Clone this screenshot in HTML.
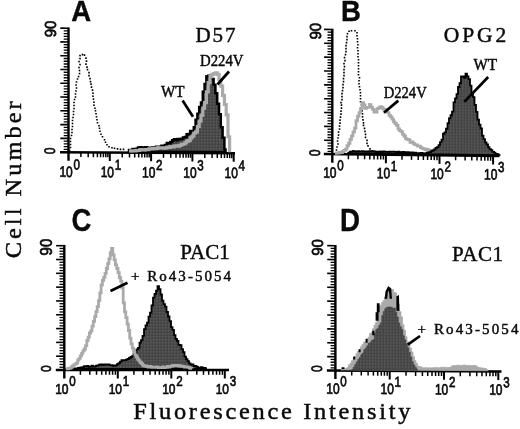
<!DOCTYPE html>
<html><head><meta charset="utf-8"><title>Figure</title>
<style>
html,body{margin:0;padding:0;background:#fff;}
body{width:520px;height:429px;overflow:hidden;font-family:"Liberation Sans",sans-serif;}
svg{display:block;will-change:transform;}
text{fill:#0a0a0a;} .sb{stroke:#0a0a0a;stroke-width:0.7px;} .sr{stroke:#0a0a0a;stroke-width:0.45px;} .bb{stroke:#000;stroke-width:0.35px;}
</style></head><body>
<svg width="520" height="429" viewBox="0 0 520 429">
<defs><pattern id="ht" width="3" height="3" patternUnits="userSpaceOnUse"><rect width="3" height="3" fill="#4a4a4a"/><rect x="0" y="0" width="1.5" height="1.5" fill="#585858"/><rect x="1.5" y="1.5" width="1.5" height="1.5" fill="#404040"/></pattern></defs>
<rect width="520" height="429" fill="#fff"/>
<g transform="matrix(1,0.007,0,1,0,-0.480)">
<line x1="68.5" y1="27.4" x2="68.5" y2="160.7" stroke="#000" stroke-width="2.4"/>
<line x1="60.0" y1="152.2" x2="235" y2="152.2" stroke="#000" stroke-width="2.5"/>
<line x1="63.7" y1="149.44" x2="68.5" y2="149.44" stroke="#000" stroke-width="1.3"/>
<line x1="63.7" y1="146.69" x2="68.5" y2="146.69" stroke="#000" stroke-width="1.3"/>
<line x1="63.7" y1="143.93" x2="68.5" y2="143.93" stroke="#000" stroke-width="1.3"/>
<line x1="63.7" y1="141.18" x2="68.5" y2="141.18" stroke="#000" stroke-width="1.3"/>
<line x1="60.3" y1="138.42" x2="68.5" y2="138.42" stroke="#000" stroke-width="1.6"/>
<line x1="63.7" y1="135.67" x2="68.5" y2="135.67" stroke="#000" stroke-width="1.3"/>
<line x1="63.7" y1="132.91" x2="68.5" y2="132.91" stroke="#000" stroke-width="1.3"/>
<line x1="63.7" y1="130.16" x2="68.5" y2="130.16" stroke="#000" stroke-width="1.3"/>
<line x1="63.7" y1="127.40" x2="68.5" y2="127.40" stroke="#000" stroke-width="1.3"/>
<line x1="60.3" y1="124.64" x2="68.5" y2="124.64" stroke="#000" stroke-width="1.6"/>
<line x1="63.7" y1="121.89" x2="68.5" y2="121.89" stroke="#000" stroke-width="1.3"/>
<line x1="63.7" y1="119.13" x2="68.5" y2="119.13" stroke="#000" stroke-width="1.3"/>
<line x1="63.7" y1="116.38" x2="68.5" y2="116.38" stroke="#000" stroke-width="1.3"/>
<line x1="63.7" y1="113.62" x2="68.5" y2="113.62" stroke="#000" stroke-width="1.3"/>
<line x1="60.3" y1="110.87" x2="68.5" y2="110.87" stroke="#000" stroke-width="1.6"/>
<line x1="63.7" y1="108.11" x2="68.5" y2="108.11" stroke="#000" stroke-width="1.3"/>
<line x1="63.7" y1="105.36" x2="68.5" y2="105.36" stroke="#000" stroke-width="1.3"/>
<line x1="63.7" y1="102.60" x2="68.5" y2="102.60" stroke="#000" stroke-width="1.3"/>
<line x1="63.7" y1="99.84" x2="68.5" y2="99.84" stroke="#000" stroke-width="1.3"/>
<line x1="60.3" y1="97.09" x2="68.5" y2="97.09" stroke="#000" stroke-width="1.6"/>
<line x1="63.7" y1="94.33" x2="68.5" y2="94.33" stroke="#000" stroke-width="1.3"/>
<line x1="63.7" y1="91.58" x2="68.5" y2="91.58" stroke="#000" stroke-width="1.3"/>
<line x1="63.7" y1="88.82" x2="68.5" y2="88.82" stroke="#000" stroke-width="1.3"/>
<line x1="63.7" y1="86.07" x2="68.5" y2="86.07" stroke="#000" stroke-width="1.3"/>
<line x1="60.3" y1="83.31" x2="68.5" y2="83.31" stroke="#000" stroke-width="1.6"/>
<line x1="63.7" y1="80.56" x2="68.5" y2="80.56" stroke="#000" stroke-width="1.3"/>
<line x1="63.7" y1="77.80" x2="68.5" y2="77.80" stroke="#000" stroke-width="1.3"/>
<line x1="63.7" y1="75.04" x2="68.5" y2="75.04" stroke="#000" stroke-width="1.3"/>
<line x1="63.7" y1="72.29" x2="68.5" y2="72.29" stroke="#000" stroke-width="1.3"/>
<line x1="60.3" y1="69.53" x2="68.5" y2="69.53" stroke="#000" stroke-width="1.6"/>
<line x1="63.7" y1="66.78" x2="68.5" y2="66.78" stroke="#000" stroke-width="1.3"/>
<line x1="63.7" y1="64.02" x2="68.5" y2="64.02" stroke="#000" stroke-width="1.3"/>
<line x1="63.7" y1="61.27" x2="68.5" y2="61.27" stroke="#000" stroke-width="1.3"/>
<line x1="63.7" y1="58.51" x2="68.5" y2="58.51" stroke="#000" stroke-width="1.3"/>
<line x1="60.3" y1="55.76" x2="68.5" y2="55.76" stroke="#000" stroke-width="1.6"/>
<line x1="63.7" y1="53.00" x2="68.5" y2="53.00" stroke="#000" stroke-width="1.3"/>
<line x1="63.7" y1="50.24" x2="68.5" y2="50.24" stroke="#000" stroke-width="1.3"/>
<line x1="63.7" y1="47.49" x2="68.5" y2="47.49" stroke="#000" stroke-width="1.3"/>
<line x1="63.7" y1="44.73" x2="68.5" y2="44.73" stroke="#000" stroke-width="1.3"/>
<line x1="60.3" y1="41.98" x2="68.5" y2="41.98" stroke="#000" stroke-width="1.6"/>
<line x1="63.7" y1="39.22" x2="68.5" y2="39.22" stroke="#000" stroke-width="1.3"/>
<line x1="63.7" y1="36.47" x2="68.5" y2="36.47" stroke="#000" stroke-width="1.3"/>
<line x1="63.7" y1="33.71" x2="68.5" y2="33.71" stroke="#000" stroke-width="1.3"/>
<line x1="63.7" y1="30.96" x2="68.5" y2="30.96" stroke="#000" stroke-width="1.3"/>
<line x1="60.3" y1="28.20" x2="68.5" y2="28.20" stroke="#000" stroke-width="1.6"/>
<line x1="80.9" y1="152.2" x2="80.9" y2="157.0" stroke="#000" stroke-width="1.5"/>
<line x1="88.2" y1="152.2" x2="88.2" y2="157.0" stroke="#000" stroke-width="1.5"/>
<line x1="93.4" y1="152.2" x2="93.4" y2="157.0" stroke="#000" stroke-width="1.5"/>
<line x1="97.4" y1="152.2" x2="97.4" y2="157.0" stroke="#000" stroke-width="1.5"/>
<line x1="100.6" y1="152.2" x2="100.6" y2="157.0" stroke="#000" stroke-width="1.5"/>
<line x1="103.4" y1="152.2" x2="103.4" y2="157.0" stroke="#000" stroke-width="1.5"/>
<line x1="105.8" y1="152.2" x2="105.8" y2="157.0" stroke="#000" stroke-width="1.5"/>
<line x1="107.9" y1="152.2" x2="107.9" y2="157.0" stroke="#000" stroke-width="1.5"/>
<text class="sb" transform="translate(59.4,176.9) scale(0.80,1)" font-family="Liberation Sans" font-size="15">10</text>
<text class="sb" transform="translate(73.4,169.4) scale(0.80,1)" font-family="Liberation Sans" font-size="14.5">0</text>
<line x1="109.8" y1="152.2" x2="109.8" y2="160.7" stroke="#000" stroke-width="2"/>
<line x1="122.2" y1="152.2" x2="122.2" y2="157.0" stroke="#000" stroke-width="1.5"/>
<line x1="129.5" y1="152.2" x2="129.5" y2="157.0" stroke="#000" stroke-width="1.5"/>
<line x1="134.7" y1="152.2" x2="134.7" y2="157.0" stroke="#000" stroke-width="1.5"/>
<line x1="138.7" y1="152.2" x2="138.7" y2="157.0" stroke="#000" stroke-width="1.5"/>
<line x1="141.9" y1="152.2" x2="141.9" y2="157.0" stroke="#000" stroke-width="1.5"/>
<line x1="144.7" y1="152.2" x2="144.7" y2="157.0" stroke="#000" stroke-width="1.5"/>
<line x1="147.1" y1="152.2" x2="147.1" y2="157.0" stroke="#000" stroke-width="1.5"/>
<line x1="149.2" y1="152.2" x2="149.2" y2="157.0" stroke="#000" stroke-width="1.5"/>
<text class="sb" transform="translate(100.7,176.9) scale(0.80,1)" font-family="Liberation Sans" font-size="15">10</text>
<text class="sb" transform="translate(114.7,169.4) scale(0.80,1)" font-family="Liberation Sans" font-size="14.5">1</text>
<line x1="151.1" y1="152.2" x2="151.1" y2="160.7" stroke="#000" stroke-width="2"/>
<line x1="163.5" y1="152.2" x2="163.5" y2="157.0" stroke="#000" stroke-width="1.5"/>
<line x1="170.8" y1="152.2" x2="170.8" y2="157.0" stroke="#000" stroke-width="1.5"/>
<line x1="176.0" y1="152.2" x2="176.0" y2="157.0" stroke="#000" stroke-width="1.5"/>
<line x1="180.0" y1="152.2" x2="180.0" y2="157.0" stroke="#000" stroke-width="1.5"/>
<line x1="183.2" y1="152.2" x2="183.2" y2="157.0" stroke="#000" stroke-width="1.5"/>
<line x1="186.0" y1="152.2" x2="186.0" y2="157.0" stroke="#000" stroke-width="1.5"/>
<line x1="188.4" y1="152.2" x2="188.4" y2="157.0" stroke="#000" stroke-width="1.5"/>
<line x1="190.5" y1="152.2" x2="190.5" y2="157.0" stroke="#000" stroke-width="1.5"/>
<text class="sb" transform="translate(142.0,176.9) scale(0.80,1)" font-family="Liberation Sans" font-size="15">10</text>
<text class="sb" transform="translate(156.0,169.4) scale(0.80,1)" font-family="Liberation Sans" font-size="14.5">2</text>
<line x1="192.4" y1="152.2" x2="192.4" y2="160.7" stroke="#000" stroke-width="2"/>
<line x1="204.8" y1="152.2" x2="204.8" y2="157.0" stroke="#000" stroke-width="1.5"/>
<line x1="212.1" y1="152.2" x2="212.1" y2="157.0" stroke="#000" stroke-width="1.5"/>
<line x1="217.3" y1="152.2" x2="217.3" y2="157.0" stroke="#000" stroke-width="1.5"/>
<line x1="221.3" y1="152.2" x2="221.3" y2="157.0" stroke="#000" stroke-width="1.5"/>
<line x1="224.5" y1="152.2" x2="224.5" y2="157.0" stroke="#000" stroke-width="1.5"/>
<line x1="227.3" y1="152.2" x2="227.3" y2="157.0" stroke="#000" stroke-width="1.5"/>
<line x1="229.7" y1="152.2" x2="229.7" y2="157.0" stroke="#000" stroke-width="1.5"/>
<line x1="231.8" y1="152.2" x2="231.8" y2="157.0" stroke="#000" stroke-width="1.5"/>
<text class="sb" transform="translate(183.3,176.9) scale(0.80,1)" font-family="Liberation Sans" font-size="15">10</text>
<text class="sb" transform="translate(197.3,169.4) scale(0.80,1)" font-family="Liberation Sans" font-size="14.5">3</text>
<line x1="233.7" y1="152.2" x2="233.7" y2="160.7" stroke="#000" stroke-width="2"/>
<text class="sb" transform="translate(224.6,176.9) scale(0.80,1)" font-family="Liberation Sans" font-size="15">10</text>
<text class="sb" transform="translate(238.6,169.4) scale(0.80,1)" font-family="Liberation Sans" font-size="14.5">4</text>
<text class="sb" transform="translate(55.5,37.4) rotate(-90)" font-family="Liberation Sans" font-size="16" textLength="16.6" lengthAdjust="spacingAndGlyphs">90</text>
<text class="sb" transform="translate(54.6,154.3) rotate(-90) scale(0.8,1)" font-family="Liberation Sans" font-size="15.2">0</text>
<path d="M68.7 150.5h1.6 M69.7 147.5h1.6 M69.7 144.5h1.6 M69.7 141.5h1.6 M69.7 138.5h1.6 M70.7 135.5h1.6 M71.2 132.5h1.6 M71.2 129.5h1.6 M71.7 126.5h1.6 M71.7 123.5h1.6 M71.7 120.5h1.6 M72.2 117.5h1.6 M72.7 114.5h1.6 M72.7 111.5h1.6 M73.2 108.5h1.6 M73.2 105.5h1.6 M73.2 102.5h1.6 M73.7 99.5h1.6 M74.7 97.0h1.6 M74.7 94.0h1.6 M75.2 91.0h1.6 M75.7 88.0h1.6 M75.2 85.0h1.6 M75.7 82.0h1.6 M76.7 79.0h1.6 M77.7 76.5h1.6 M78.7 73.5h1.6 M78.7 70.5h1.6 M78.2 67.5h1.6 M79.2 64.5h1.6 M78.2 61.5h1.6 M79.2 58.5h1.6 M79.2 55.5h1.6 M81.7 54.5h1.6 M83.7 55.0h1.6 M85.2 58.0h1.6 M85.7 61.0h1.6 M85.2 64.0h1.6 M86.2 67.0h1.6 M86.7 69.5h1.6 M88.2 72.5h1.6 M88.2 75.5h1.6 M89.2 78.5h1.6 M89.7 81.5h1.6 M90.2 84.0h1.6 M90.7 87.0h1.6 M91.7 90.0h1.6 M92.2 93.0h1.6 M92.2 96.0h1.6 M92.7 99.0h1.6 M93.2 102.0h1.6 M93.2 105.0h1.6 M94.2 108.0h1.6 M94.7 110.5h1.6 M95.2 113.5h1.6 M95.7 116.5h1.6 M96.2 119.5h1.6 M96.7 122.5h1.6 M98.2 125.5h1.6 M98.7 128.0h1.6 M99.2 131.0h1.6 M100.2 134.0h1.6 M101.7 136.5h1.6 M103.7 139.5h1.6 M104.7 142.0h1.6 M106.2 144.5h1.6 M108.2 146.5h1.6 M111.2 147.5h1.6 M113.7 148.0h1.6 M116.7 148.5h1.6 M119.7 149.0h1.6 M122.7 149.0h1.6" fill="none" stroke="#000" stroke-width="1.6"/>
<path d="M129.0 149.6 H130.8 V149.5 H132.6 V148.6 H134.4 V148.6 H136.2 V148.3 H138.0 V147.1 H139.8 V146.7 H141.6 V147.7 H143.4 V146.9 H145.2 V146.8 H147.0 V148.0 H148.8 V147.2 H150.6 V147.7 H152.4 V147.0 H154.2 V147.0 H156.0 V146.1 H157.8 V146.3 H159.6 V146.2 H161.4 V145.2 H163.2 V145.0 H165.0 V144.3 H166.8 V142.4 H168.6 V142.6 H170.4 V141.3 H172.2 V139.6 H174.0 V138.4 H175.8 V139.6 H177.6 V138.3 H179.4 V138.4 H181.2 V138.0 H183.0 V136.6 H184.8 V136.1 H186.6 V133.5 H188.4 V133.1 H190.2 V130.1 H192.0 V130.1 H193.8 V126.3 H195.6 V118.9 H197.4 V112.8 H199.2 V106.2 H201.0 V101.6 H202.8 V90.8 H204.6 V83.0 H206.4 V75.4 H208.2 V74.8 H210.0 V76.1 H211.8 V78.1 H213.6 V83.8 H215.4 V92.3 H217.2 V102.6 H219.0 V113.3 H220.8 V126.1 H222.6 V136.7 H224.4 V148.3 H225.5 V151.2 V151.2 H129.0 Z" fill="url(#ht)" stroke="#000" stroke-width="2.5" stroke-linejoin="miter"/>
<path d="M129.0 150.6 H130.8 V150.5 H132.6 V150.4 H134.4 V150.4 H136.2 V150.0 H138.0 V150.0 H139.8 V149.1 H141.6 V149.3 H143.4 V149.5 H145.2 V149.1 H147.0 V149.1 H148.8 V148.3 H150.6 V148.4 H152.4 V148.0 H154.2 V148.0 H156.0 V147.8 H157.8 V147.1 H159.6 V147.2 H161.4 V147.1 H163.2 V147.5 H165.0 V147.2 H166.8 V146.5 H168.6 V146.8 H170.4 V146.0 H172.2 V146.1 H174.0 V145.4 H175.8 V145.0 H177.6 V145.3 H179.4 V144.5 H181.2 V143.6 H183.0 V143.2 H184.8 V142.0 H186.6 V140.2 H188.4 V139.7 H190.2 V137.1 H192.0 V135.3 H193.8 V132.3 H195.6 V131.0 H197.4 V125.6 H199.2 V120.3 H201.0 V114.1 H202.8 V107.1 H204.6 V101.6 H206.4 V90.8 H208.2 V81.6 H210.0 V75.6 H211.8 V73.4 H213.6 V72.7 H215.4 V71.8 H217.2 V73.4 H219.0 V78.4 H220.8 V85.0 H222.6 V94.3 H224.4 V103.4 H226.2 V113.7 H228.0 V135.6 H229.6 V151.2" fill="none" stroke="#aaaaaa" stroke-width="3.2"/>
</g>
<text class="bb" transform="translate(71.2,21.2) scale(0.95,1)" font-family="Liberation Sans" font-weight="bold" font-size="29">A</text>
<text class="sr" transform="translate(195.5,41.6) scale(1.0,1)" font-family="Liberation Serif" font-size="21" textLength="40.00">D57</text>
<text class="sr" transform="translate(200,66) scale(1.0,1)" font-family="Liberation Serif" font-size="16" textLength="43.50" lengthAdjust="spacingAndGlyphs">D224V</text>
<text class="sr" transform="translate(161,97) scale(1.0,1)" font-family="Liberation Serif" font-size="16" textLength="23.50" lengthAdjust="spacingAndGlyphs">WT</text>
<line x1="229" y1="71.5" x2="217.5" y2="84.5" stroke="#000" stroke-width="2.7"/>
<line x1="182.6" y1="100.4" x2="193" y2="116.7" stroke="#000" stroke-width="2.7"/>
<g transform="matrix(1,0.011,0,1,0,-3.655)">
<line x1="332.3" y1="28.7" x2="332.3" y2="162.7" stroke="#000" stroke-width="2.4"/>
<line x1="323.8" y1="154.2" x2="499.5" y2="154.2" stroke="#000" stroke-width="2.5"/>
<line x1="327.5" y1="151.43" x2="332.3" y2="151.43" stroke="#000" stroke-width="1.3"/>
<line x1="327.5" y1="148.66" x2="332.3" y2="148.66" stroke="#000" stroke-width="1.3"/>
<line x1="327.5" y1="145.89" x2="332.3" y2="145.89" stroke="#000" stroke-width="1.3"/>
<line x1="327.5" y1="143.12" x2="332.3" y2="143.12" stroke="#000" stroke-width="1.3"/>
<line x1="324.1" y1="140.34" x2="332.3" y2="140.34" stroke="#000" stroke-width="1.6"/>
<line x1="327.5" y1="137.57" x2="332.3" y2="137.57" stroke="#000" stroke-width="1.3"/>
<line x1="327.5" y1="134.80" x2="332.3" y2="134.80" stroke="#000" stroke-width="1.3"/>
<line x1="327.5" y1="132.03" x2="332.3" y2="132.03" stroke="#000" stroke-width="1.3"/>
<line x1="327.5" y1="129.26" x2="332.3" y2="129.26" stroke="#000" stroke-width="1.3"/>
<line x1="324.1" y1="126.49" x2="332.3" y2="126.49" stroke="#000" stroke-width="1.6"/>
<line x1="327.5" y1="123.72" x2="332.3" y2="123.72" stroke="#000" stroke-width="1.3"/>
<line x1="327.5" y1="120.95" x2="332.3" y2="120.95" stroke="#000" stroke-width="1.3"/>
<line x1="327.5" y1="118.18" x2="332.3" y2="118.18" stroke="#000" stroke-width="1.3"/>
<line x1="327.5" y1="115.40" x2="332.3" y2="115.40" stroke="#000" stroke-width="1.3"/>
<line x1="324.1" y1="112.63" x2="332.3" y2="112.63" stroke="#000" stroke-width="1.6"/>
<line x1="327.5" y1="109.86" x2="332.3" y2="109.86" stroke="#000" stroke-width="1.3"/>
<line x1="327.5" y1="107.09" x2="332.3" y2="107.09" stroke="#000" stroke-width="1.3"/>
<line x1="327.5" y1="104.32" x2="332.3" y2="104.32" stroke="#000" stroke-width="1.3"/>
<line x1="327.5" y1="101.55" x2="332.3" y2="101.55" stroke="#000" stroke-width="1.3"/>
<line x1="324.1" y1="98.78" x2="332.3" y2="98.78" stroke="#000" stroke-width="1.6"/>
<line x1="327.5" y1="96.01" x2="332.3" y2="96.01" stroke="#000" stroke-width="1.3"/>
<line x1="327.5" y1="93.24" x2="332.3" y2="93.24" stroke="#000" stroke-width="1.3"/>
<line x1="327.5" y1="90.46" x2="332.3" y2="90.46" stroke="#000" stroke-width="1.3"/>
<line x1="327.5" y1="87.69" x2="332.3" y2="87.69" stroke="#000" stroke-width="1.3"/>
<line x1="324.1" y1="84.92" x2="332.3" y2="84.92" stroke="#000" stroke-width="1.6"/>
<line x1="327.5" y1="82.15" x2="332.3" y2="82.15" stroke="#000" stroke-width="1.3"/>
<line x1="327.5" y1="79.38" x2="332.3" y2="79.38" stroke="#000" stroke-width="1.3"/>
<line x1="327.5" y1="76.61" x2="332.3" y2="76.61" stroke="#000" stroke-width="1.3"/>
<line x1="327.5" y1="73.84" x2="332.3" y2="73.84" stroke="#000" stroke-width="1.3"/>
<line x1="324.1" y1="71.07" x2="332.3" y2="71.07" stroke="#000" stroke-width="1.6"/>
<line x1="327.5" y1="68.30" x2="332.3" y2="68.30" stroke="#000" stroke-width="1.3"/>
<line x1="327.5" y1="65.52" x2="332.3" y2="65.52" stroke="#000" stroke-width="1.3"/>
<line x1="327.5" y1="62.75" x2="332.3" y2="62.75" stroke="#000" stroke-width="1.3"/>
<line x1="327.5" y1="59.98" x2="332.3" y2="59.98" stroke="#000" stroke-width="1.3"/>
<line x1="324.1" y1="57.21" x2="332.3" y2="57.21" stroke="#000" stroke-width="1.6"/>
<line x1="327.5" y1="54.44" x2="332.3" y2="54.44" stroke="#000" stroke-width="1.3"/>
<line x1="327.5" y1="51.67" x2="332.3" y2="51.67" stroke="#000" stroke-width="1.3"/>
<line x1="327.5" y1="48.90" x2="332.3" y2="48.90" stroke="#000" stroke-width="1.3"/>
<line x1="327.5" y1="46.13" x2="332.3" y2="46.13" stroke="#000" stroke-width="1.3"/>
<line x1="324.1" y1="43.36" x2="332.3" y2="43.36" stroke="#000" stroke-width="1.6"/>
<line x1="327.5" y1="40.58" x2="332.3" y2="40.58" stroke="#000" stroke-width="1.3"/>
<line x1="327.5" y1="37.81" x2="332.3" y2="37.81" stroke="#000" stroke-width="1.3"/>
<line x1="327.5" y1="35.04" x2="332.3" y2="35.04" stroke="#000" stroke-width="1.3"/>
<line x1="327.5" y1="32.27" x2="332.3" y2="32.27" stroke="#000" stroke-width="1.3"/>
<line x1="324.1" y1="29.50" x2="332.3" y2="29.50" stroke="#000" stroke-width="1.6"/>
<line x1="348.4" y1="154.2" x2="348.4" y2="159.0" stroke="#000" stroke-width="1.5"/>
<line x1="357.9" y1="154.2" x2="357.9" y2="159.0" stroke="#000" stroke-width="1.5"/>
<line x1="364.6" y1="154.2" x2="364.6" y2="159.0" stroke="#000" stroke-width="1.5"/>
<line x1="369.8" y1="154.2" x2="369.8" y2="159.0" stroke="#000" stroke-width="1.5"/>
<line x1="374.0" y1="154.2" x2="374.0" y2="159.0" stroke="#000" stroke-width="1.5"/>
<line x1="377.6" y1="154.2" x2="377.6" y2="159.0" stroke="#000" stroke-width="1.5"/>
<line x1="380.7" y1="154.2" x2="380.7" y2="159.0" stroke="#000" stroke-width="1.5"/>
<line x1="383.4" y1="154.2" x2="383.4" y2="159.0" stroke="#000" stroke-width="1.5"/>
<text class="sb" transform="translate(323.2,177.8) scale(0.80,1)" font-family="Liberation Sans" font-size="15">10</text>
<text class="sb" transform="translate(337.2,170.3) scale(0.80,1)" font-family="Liberation Sans" font-size="14.5">0</text>
<line x1="385.9" y1="154.2" x2="385.9" y2="162.7" stroke="#000" stroke-width="2"/>
<line x1="402.0" y1="154.2" x2="402.0" y2="159.0" stroke="#000" stroke-width="1.5"/>
<line x1="411.5" y1="154.2" x2="411.5" y2="159.0" stroke="#000" stroke-width="1.5"/>
<line x1="418.2" y1="154.2" x2="418.2" y2="159.0" stroke="#000" stroke-width="1.5"/>
<line x1="423.4" y1="154.2" x2="423.4" y2="159.0" stroke="#000" stroke-width="1.5"/>
<line x1="427.6" y1="154.2" x2="427.6" y2="159.0" stroke="#000" stroke-width="1.5"/>
<line x1="431.2" y1="154.2" x2="431.2" y2="159.0" stroke="#000" stroke-width="1.5"/>
<line x1="434.3" y1="154.2" x2="434.3" y2="159.0" stroke="#000" stroke-width="1.5"/>
<line x1="437.0" y1="154.2" x2="437.0" y2="159.0" stroke="#000" stroke-width="1.5"/>
<text class="sb" transform="translate(376.8,177.8) scale(0.80,1)" font-family="Liberation Sans" font-size="15">10</text>
<text class="sb" transform="translate(390.8,170.3) scale(0.80,1)" font-family="Liberation Sans" font-size="14.5">1</text>
<line x1="439.5" y1="154.2" x2="439.5" y2="162.7" stroke="#000" stroke-width="2"/>
<line x1="455.6" y1="154.2" x2="455.6" y2="159.0" stroke="#000" stroke-width="1.5"/>
<line x1="465.1" y1="154.2" x2="465.1" y2="159.0" stroke="#000" stroke-width="1.5"/>
<line x1="471.8" y1="154.2" x2="471.8" y2="159.0" stroke="#000" stroke-width="1.5"/>
<line x1="477.0" y1="154.2" x2="477.0" y2="159.0" stroke="#000" stroke-width="1.5"/>
<line x1="481.2" y1="154.2" x2="481.2" y2="159.0" stroke="#000" stroke-width="1.5"/>
<line x1="484.8" y1="154.2" x2="484.8" y2="159.0" stroke="#000" stroke-width="1.5"/>
<line x1="487.9" y1="154.2" x2="487.9" y2="159.0" stroke="#000" stroke-width="1.5"/>
<line x1="490.6" y1="154.2" x2="490.6" y2="159.0" stroke="#000" stroke-width="1.5"/>
<text class="sb" transform="translate(430.4,177.8) scale(0.80,1)" font-family="Liberation Sans" font-size="15">10</text>
<text class="sb" transform="translate(444.4,170.3) scale(0.80,1)" font-family="Liberation Sans" font-size="14.5">2</text>
<line x1="493.1" y1="154.2" x2="493.1" y2="162.7" stroke="#000" stroke-width="2"/>
<text class="sb" transform="translate(484.0,177.8) scale(0.80,1)" font-family="Liberation Sans" font-size="15">10</text>
<text class="sb" transform="translate(498.0,170.3) scale(0.80,1)" font-family="Liberation Sans" font-size="14.5">3</text>
<text class="sb" transform="translate(320.8,39.6) rotate(-90)" font-family="Liberation Sans" font-size="16" textLength="16.6" lengthAdjust="spacingAndGlyphs">90</text>
<text class="sb" transform="translate(319.90000000000003,156.5) rotate(-90) scale(0.8,1)" font-family="Liberation Sans" font-size="15.2">0</text>
<path d="M336.2 153.0h1.6 M335.7 150.0h1.6 M336.2 147.0h1.6 M337.2 144.0h1.6 M336.7 141.0h1.6 M337.2 138.0h1.6 M337.7 135.0h1.6 M337.7 132.0h1.6 M338.7 129.0h1.6 M338.7 126.0h1.6 M339.2 123.0h1.6 M339.2 120.0h1.6 M339.7 117.0h1.6 M340.2 114.0h1.6 M340.2 111.0h1.6 M340.7 108.0h1.6 M340.7 105.0h1.6 M340.2 102.5h1.6 M341.2 99.5h1.6 M341.2 96.5h1.6 M341.2 93.5h1.6 M341.7 90.5h1.6 M342.2 87.5h1.6 M342.2 84.5h1.6 M342.7 81.5h1.6 M342.7 78.5h1.6 M343.2 75.5h1.6 M343.2 72.5h1.6 M343.2 69.5h1.6 M343.7 66.5h1.6 M343.2 63.5h1.6 M344.2 60.5h1.6 M343.7 57.5h1.6 M344.7 54.5h1.6 M345.2 51.5h1.6 M345.2 48.5h1.6 M345.2 45.5h1.6 M345.7 42.5h1.6 M346.2 39.5h1.6 M346.2 36.5h1.6 M346.7 33.5h1.6 M348.2 31.0h1.6 M350.7 30.5h1.6 M354.2 30.5h1.6 M356.2 32.5h1.6 M356.2 35.5h1.6 M356.7 38.5h1.6 M356.7 41.5h1.6 M357.2 44.5h1.6 M356.7 47.5h1.6 M357.2 50.5h1.6 M357.2 53.5h1.6 M357.2 56.5h1.6 M357.7 59.5h1.6 M357.7 62.5h1.6 M357.7 65.5h1.6 M357.7 68.5h1.6 M357.7 71.5h1.6 M357.7 74.5h1.6 M358.7 77.5h1.6 M358.2 80.5h1.6 M358.2 83.5h1.6 M358.7 86.5h1.6 M359.2 89.5h1.6 M359.7 92.5h1.6 M359.7 95.5h1.6 M359.7 98.5h1.6 M359.7 101.5h1.6 M360.7 104.5h1.6 M360.7 107.5h1.6 M361.2 110.5h1.6 M361.7 113.5h1.6 M361.7 116.5h1.6 M362.2 119.5h1.6 M362.7 122.5h1.6 M362.7 125.0h1.6 M363.7 128.0h1.6 M364.2 131.0h1.6 M364.7 134.0h1.6 M364.7 137.0h1.6 M366.2 140.0h1.6 M366.2 143.0h1.6 M367.2 145.5h1.6 M369.2 148.5h1.6 M371.2 150.5h1.6 M373.2 152.5h1.6" fill="none" stroke="#000" stroke-width="1.6"/>
<path d="M335.0 153.2 H336.5 V152.8 H338.0 V153.1 H339.5 V152.2 H341.0 V152.4 H342.5 V151.4 H344.0 V150.2 H345.5 V149.0 H347.0 V145.6 H348.5 V143.1 H350.0 V139.2 H351.5 V135.6 H353.0 V131.7 H354.5 V127.8 H356.0 V120.5 H357.5 V116.0 H359.0 V112.4 H360.5 V108.1 H362.0 V102.3 H363.5 V104.5 H365.0 V107.9 H366.5 V106.9 H368.0 V107.0 H369.5 V104.1 H371.0 V106.7 H372.5 V109.0 H374.0 V111.6 H375.5 V111.6 H377.0 V108.2 H378.5 V107.5 H380.0 V106.2 H381.5 V106.8 H383.0 V108.6 H384.5 V108.8 H386.0 V110.3 H387.5 V112.0 H389.0 V114.7 H390.5 V116.3 H392.0 V118.4 H393.5 V121.2 H395.0 V122.9 H396.5 V124.7 H398.0 V128.1 H399.5 V130.0 H401.0 V130.8 H402.5 V133.6 H404.0 V135.3 H405.5 V137.7 H407.0 V138.6 H408.5 V139.0 H410.0 V141.4 H411.5 V141.0 H413.0 V142.4 H414.5 V143.8 H416.0 V144.0 H417.5 V145.1 H419.0 V145.2 H420.5 V146.6 H422.0 V147.5 H423.5 V147.8 H425.0 V148.5 H426.5 V148.2 H428.0 V149.0 H429.5 V149.2 H431.0 V149.6 H432.5 V149.8 H434.0 V150.4 H435.5 V150.7 H437.0 V150.3 H438.5 V150.7 H440.0 V150.2 H441.5 V151.1 H443.0 V151.2 H444.5 V151.8 H445.0 V151.3" fill="none" stroke="#aaaaaa" stroke-width="2.8"/>
<path d="M347.0 153.2 H348.5 V152.4 H350.0 V151.4 H351.5 V151.3 H353.0 V150.8 H354.5 V151.1 H356.0 V151.3 H357.5 V150.8 H359.0 V151.1 H360.5 V151.1 H362.0 V150.8 H363.5 V151.0 H365.0 V151.2 H366.5 V151.0 H368.0 V151.2 H369.5 V150.8 H371.0 V150.9 H372.5 V150.8 H374.0 V151.0 H375.5 V151.3 H377.0 V151.1 H378.5 V151.2 H380.0 V151.0 H381.5 V151.2 H383.0 V150.8 H384.5 V151.0 H386.0 V151.2 H387.5 V151.3 H389.0 V151.1 H390.5 V150.9 H392.0 V151.0 H393.5 V151.0 H395.0 V151.1 H396.5 V151.4 H398.0 V151.0 H399.5 V151.5 H401.0 V151.5 H402.5 V151.1 H404.0 V151.4 H405.5 V151.5 H407.0 V151.3 H408.5 V151.6 H410.0 V152.0 H411.5 V151.6 H413.0 V152.0 H414.5 V151.8 H416.0 V152.1 H417.5 V152.4 H419.0 V152.1 H420.5 V152.0 H422.0 V152.1 H423.5 V152.5 H425.0 V152.3 H426.5 V151.7 H428.0 V151.3 H429.5 V151.0 H431.0 V150.0 H432.5 V149.2 H434.0 V148.3 H435.5 V146.7 H437.0 V146.1 H438.5 V144.0 H440.0 V141.0 H441.5 V138.4 H443.0 V132.5 H444.5 V131.2 H446.0 V127.5 H447.5 V122.0 H449.0 V117.0 H450.5 V113.9 H452.0 V110.3 H453.5 V101.0 H455.0 V97.0 H456.5 V92.8 H458.0 V85.6 H459.5 V81.7 H461.0 V75.1 H462.5 V74.9 H464.0 V76.3 H465.5 V72.2 H467.0 V74.9 H468.5 V77.6 H470.0 V84.1 H471.5 V91.4 H473.0 V95.6 H474.5 V103.2 H476.0 V110.2 H477.5 V118.0 H479.0 V123.0 H480.5 V126.7 H482.0 V134.0 H483.5 V137.4 H485.0 V140.8 H486.5 V142.7 H488.0 V145.3 H489.5 V147.3 H491.0 V148.4 H492.5 V150.0 H494.0 V150.9 H495.5 V152.2 H497.0 V152.4 H498.5 V153.2 H499.6 V154.0 V153.2 H347.0 Z" fill="url(#ht)" stroke="#000" stroke-width="1.8" stroke-linejoin="miter"/>
</g>
<text class="bb" transform="translate(340.9,20.5) scale(0.95,1)" font-family="Liberation Sans" font-weight="bold" font-size="29">B</text>
<text class="sr" transform="translate(443.8,42.3) scale(1.0,1)" font-family="Liberation Serif" font-size="21.5" textLength="62.50">OPG2</text>
<text class="sr" transform="translate(473.5,69.5) scale(1.0,1)" font-family="Liberation Serif" font-size="16" textLength="23.50" lengthAdjust="spacingAndGlyphs">WT</text>
<text class="sr" transform="translate(383.7,98.0) scale(1.0,1)" font-family="Liberation Serif" font-size="16" textLength="43.00" lengthAdjust="spacingAndGlyphs">D224V</text>
<line x1="488.2" y1="77" x2="464.3" y2="101.9" stroke="#000" stroke-width="2.7"/>
<line x1="398.3" y1="100.6" x2="383.9" y2="112.8" stroke="#000" stroke-width="2.7"/>
<g transform="matrix(1,0.0,0,1,0,-0.000)">
<line x1="64.3" y1="244.89999999999998" x2="64.3" y2="378.5" stroke="#000" stroke-width="2.4"/>
<line x1="55.8" y1="370" x2="229" y2="370" stroke="#000" stroke-width="2.5"/>
<line x1="59.5" y1="367.24" x2="64.3" y2="367.24" stroke="#000" stroke-width="1.3"/>
<line x1="59.5" y1="364.48" x2="64.3" y2="364.48" stroke="#000" stroke-width="1.3"/>
<line x1="59.5" y1="361.71" x2="64.3" y2="361.71" stroke="#000" stroke-width="1.3"/>
<line x1="59.5" y1="358.95" x2="64.3" y2="358.95" stroke="#000" stroke-width="1.3"/>
<line x1="56.099999999999994" y1="356.19" x2="64.3" y2="356.19" stroke="#000" stroke-width="1.6"/>
<line x1="59.5" y1="353.43" x2="64.3" y2="353.43" stroke="#000" stroke-width="1.3"/>
<line x1="59.5" y1="350.66" x2="64.3" y2="350.66" stroke="#000" stroke-width="1.3"/>
<line x1="59.5" y1="347.90" x2="64.3" y2="347.90" stroke="#000" stroke-width="1.3"/>
<line x1="59.5" y1="345.14" x2="64.3" y2="345.14" stroke="#000" stroke-width="1.3"/>
<line x1="56.099999999999994" y1="342.38" x2="64.3" y2="342.38" stroke="#000" stroke-width="1.6"/>
<line x1="59.5" y1="339.62" x2="64.3" y2="339.62" stroke="#000" stroke-width="1.3"/>
<line x1="59.5" y1="336.85" x2="64.3" y2="336.85" stroke="#000" stroke-width="1.3"/>
<line x1="59.5" y1="334.09" x2="64.3" y2="334.09" stroke="#000" stroke-width="1.3"/>
<line x1="59.5" y1="331.33" x2="64.3" y2="331.33" stroke="#000" stroke-width="1.3"/>
<line x1="56.099999999999994" y1="328.57" x2="64.3" y2="328.57" stroke="#000" stroke-width="1.6"/>
<line x1="59.5" y1="325.80" x2="64.3" y2="325.80" stroke="#000" stroke-width="1.3"/>
<line x1="59.5" y1="323.04" x2="64.3" y2="323.04" stroke="#000" stroke-width="1.3"/>
<line x1="59.5" y1="320.28" x2="64.3" y2="320.28" stroke="#000" stroke-width="1.3"/>
<line x1="59.5" y1="317.52" x2="64.3" y2="317.52" stroke="#000" stroke-width="1.3"/>
<line x1="56.099999999999994" y1="314.76" x2="64.3" y2="314.76" stroke="#000" stroke-width="1.6"/>
<line x1="59.5" y1="311.99" x2="64.3" y2="311.99" stroke="#000" stroke-width="1.3"/>
<line x1="59.5" y1="309.23" x2="64.3" y2="309.23" stroke="#000" stroke-width="1.3"/>
<line x1="59.5" y1="306.47" x2="64.3" y2="306.47" stroke="#000" stroke-width="1.3"/>
<line x1="59.5" y1="303.71" x2="64.3" y2="303.71" stroke="#000" stroke-width="1.3"/>
<line x1="56.099999999999994" y1="300.94" x2="64.3" y2="300.94" stroke="#000" stroke-width="1.6"/>
<line x1="59.5" y1="298.18" x2="64.3" y2="298.18" stroke="#000" stroke-width="1.3"/>
<line x1="59.5" y1="295.42" x2="64.3" y2="295.42" stroke="#000" stroke-width="1.3"/>
<line x1="59.5" y1="292.66" x2="64.3" y2="292.66" stroke="#000" stroke-width="1.3"/>
<line x1="59.5" y1="289.90" x2="64.3" y2="289.90" stroke="#000" stroke-width="1.3"/>
<line x1="56.099999999999994" y1="287.13" x2="64.3" y2="287.13" stroke="#000" stroke-width="1.6"/>
<line x1="59.5" y1="284.37" x2="64.3" y2="284.37" stroke="#000" stroke-width="1.3"/>
<line x1="59.5" y1="281.61" x2="64.3" y2="281.61" stroke="#000" stroke-width="1.3"/>
<line x1="59.5" y1="278.85" x2="64.3" y2="278.85" stroke="#000" stroke-width="1.3"/>
<line x1="59.5" y1="276.08" x2="64.3" y2="276.08" stroke="#000" stroke-width="1.3"/>
<line x1="56.099999999999994" y1="273.32" x2="64.3" y2="273.32" stroke="#000" stroke-width="1.6"/>
<line x1="59.5" y1="270.56" x2="64.3" y2="270.56" stroke="#000" stroke-width="1.3"/>
<line x1="59.5" y1="267.80" x2="64.3" y2="267.80" stroke="#000" stroke-width="1.3"/>
<line x1="59.5" y1="265.04" x2="64.3" y2="265.04" stroke="#000" stroke-width="1.3"/>
<line x1="59.5" y1="262.27" x2="64.3" y2="262.27" stroke="#000" stroke-width="1.3"/>
<line x1="56.099999999999994" y1="259.51" x2="64.3" y2="259.51" stroke="#000" stroke-width="1.6"/>
<line x1="59.5" y1="256.75" x2="64.3" y2="256.75" stroke="#000" stroke-width="1.3"/>
<line x1="59.5" y1="253.99" x2="64.3" y2="253.99" stroke="#000" stroke-width="1.3"/>
<line x1="59.5" y1="251.22" x2="64.3" y2="251.22" stroke="#000" stroke-width="1.3"/>
<line x1="59.5" y1="248.46" x2="64.3" y2="248.46" stroke="#000" stroke-width="1.3"/>
<line x1="56.099999999999994" y1="245.70" x2="64.3" y2="245.70" stroke="#000" stroke-width="1.6"/>
<line x1="80.4" y1="370" x2="80.4" y2="374.8" stroke="#000" stroke-width="1.5"/>
<line x1="89.8" y1="370" x2="89.8" y2="374.8" stroke="#000" stroke-width="1.5"/>
<line x1="96.5" y1="370" x2="96.5" y2="374.8" stroke="#000" stroke-width="1.5"/>
<line x1="101.7" y1="370" x2="101.7" y2="374.8" stroke="#000" stroke-width="1.5"/>
<line x1="105.9" y1="370" x2="105.9" y2="374.8" stroke="#000" stroke-width="1.5"/>
<line x1="109.5" y1="370" x2="109.5" y2="374.8" stroke="#000" stroke-width="1.5"/>
<line x1="112.6" y1="370" x2="112.6" y2="374.8" stroke="#000" stroke-width="1.5"/>
<line x1="115.4" y1="370" x2="115.4" y2="374.8" stroke="#000" stroke-width="1.5"/>
<text class="sb" transform="translate(55.2,393.6) scale(0.80,1)" font-family="Liberation Sans" font-size="15">10</text>
<text class="sb" transform="translate(69.2,386.1) scale(0.80,1)" font-family="Liberation Sans" font-size="14.5">0</text>
<line x1="117.8" y1="370" x2="117.8" y2="378.5" stroke="#000" stroke-width="2"/>
<line x1="133.9" y1="370" x2="133.9" y2="374.8" stroke="#000" stroke-width="1.5"/>
<line x1="143.3" y1="370" x2="143.3" y2="374.8" stroke="#000" stroke-width="1.5"/>
<line x1="150.0" y1="370" x2="150.0" y2="374.8" stroke="#000" stroke-width="1.5"/>
<line x1="155.2" y1="370" x2="155.2" y2="374.8" stroke="#000" stroke-width="1.5"/>
<line x1="159.4" y1="370" x2="159.4" y2="374.8" stroke="#000" stroke-width="1.5"/>
<line x1="163.0" y1="370" x2="163.0" y2="374.8" stroke="#000" stroke-width="1.5"/>
<line x1="166.1" y1="370" x2="166.1" y2="374.8" stroke="#000" stroke-width="1.5"/>
<line x1="168.9" y1="370" x2="168.9" y2="374.8" stroke="#000" stroke-width="1.5"/>
<text class="sb" transform="translate(108.7,393.6) scale(0.80,1)" font-family="Liberation Sans" font-size="15">10</text>
<text class="sb" transform="translate(122.7,386.1) scale(0.80,1)" font-family="Liberation Sans" font-size="14.5">1</text>
<line x1="171.3" y1="370" x2="171.3" y2="378.5" stroke="#000" stroke-width="2"/>
<line x1="187.4" y1="370" x2="187.4" y2="374.8" stroke="#000" stroke-width="1.5"/>
<line x1="196.8" y1="370" x2="196.8" y2="374.8" stroke="#000" stroke-width="1.5"/>
<line x1="203.5" y1="370" x2="203.5" y2="374.8" stroke="#000" stroke-width="1.5"/>
<line x1="208.7" y1="370" x2="208.7" y2="374.8" stroke="#000" stroke-width="1.5"/>
<line x1="212.9" y1="370" x2="212.9" y2="374.8" stroke="#000" stroke-width="1.5"/>
<line x1="216.5" y1="370" x2="216.5" y2="374.8" stroke="#000" stroke-width="1.5"/>
<line x1="219.6" y1="370" x2="219.6" y2="374.8" stroke="#000" stroke-width="1.5"/>
<line x1="222.4" y1="370" x2="222.4" y2="374.8" stroke="#000" stroke-width="1.5"/>
<text class="sb" transform="translate(162.2,393.6) scale(0.80,1)" font-family="Liberation Sans" font-size="15">10</text>
<text class="sb" transform="translate(176.2,386.1) scale(0.80,1)" font-family="Liberation Sans" font-size="14.5">2</text>
<line x1="224.8" y1="370" x2="224.8" y2="378.5" stroke="#000" stroke-width="2"/>
<text class="sb" transform="translate(215.7,393.6) scale(0.80,1)" font-family="Liberation Sans" font-size="15">10</text>
<text class="sb" transform="translate(229.7,386.1) scale(0.80,1)" font-family="Liberation Sans" font-size="14.5">3</text>
<text class="sb" transform="translate(52.3,255.4) rotate(-90)" font-family="Liberation Sans" font-size="16" textLength="16.6" lengthAdjust="spacingAndGlyphs">90</text>
<text class="sb" transform="translate(51.4,372.0) rotate(-90) scale(0.8,1)" font-family="Liberation Sans" font-size="15.2">0</text>
<path d="M69.0 368.7 H70.5 V368.8 H72.0 V369.0 H73.5 V368.5 H75.0 V368.4 H76.5 V368.4 H78.0 V367.8 H79.5 V367.7 H81.0 V367.3 H82.5 V367.2 H84.0 V366.2 H85.5 V366.4 H87.0 V366.0 H88.5 V366.9 H90.0 V366.7 H91.5 V365.6 H93.0 V366.6 H94.5 V366.3 H96.0 V365.7 H97.5 V365.4 H99.0 V364.7 H100.5 V364.4 H102.0 V365.0 H103.5 V364.3 H105.0 V364.5 H106.5 V364.6 H108.0 V364.5 H109.5 V365.1 H111.0 V365.2 H112.5 V365.8 H114.0 V365.5 H115.5 V365.4 H117.0 V364.1 H118.5 V363.2 H120.0 V361.7 H121.5 V360.1 H123.0 V360.4 H124.5 V360.1 H126.0 V359.6 H127.5 V359.0 H129.0 V358.0 H130.5 V357.0 H132.0 V356.2 H133.5 V353.7 H135.0 V352.7 H136.5 V349.4 H138.0 V347.9 H139.5 V342.7 H141.0 V340.1 H142.5 V335.8 H144.0 V329.2 H145.5 V325.3 H147.0 V322.7 H148.5 V316.6 H150.0 V312.7 H151.5 V305.5 H153.0 V297.6 H154.5 V294.0 H156.0 V290.7 H157.5 V286.1 H159.0 V289.1 H160.5 V294.5 H162.0 V300.6 H163.5 V304.2 H165.0 V306.7 H166.5 V312.0 H168.0 V316.5 H169.5 V321.1 H171.0 V327.2 H172.5 V329.8 H174.0 V335.1 H175.5 V339.0 H177.0 V341.0 H178.5 V344.8 H180.0 V345.1 H181.5 V349.2 H183.0 V352.2 H184.5 V356.7 H186.0 V359.2 H187.5 V361.1 H189.0 V363.4 H190.5 V364.4 H192.0 V364.5 H193.5 V366.1 H195.0 V365.9 H196.5 V366.9 H198.0 V367.7 H199.5 V367.6 H201.0 V367.1 H202.5 V368.5 H204.0 V367.8 H205.5 V368.3 H206.0 V368.7 V369.0 H69.0 Z" fill="url(#ht)" stroke="#000" stroke-width="1.8" stroke-linejoin="miter"/>
<path d="M66.0 368.7 H67.3 V368.8 H68.6 V368.4 H69.9 V368.2 H71.2 V367.0 H72.5 V366.0 H73.8 V364.9 H75.1 V363.9 H76.4 V363.1 H77.7 V360.2 H79.0 V358.4 H80.3 V355.8 H81.6 V353.3 H82.9 V350.8 H84.2 V349.0 H85.5 V345.7 H86.8 V340.5 H88.1 V337.2 H89.4 V333.0 H90.7 V330.8 H92.0 V326.1 H93.3 V321.3 H94.6 V316.6 H95.9 V311.7 H97.2 V306.7 H98.5 V300.6 H99.8 V292.8 H101.1 V284.8 H102.4 V280.4 H103.7 V277.4 H105.0 V273.3 H106.3 V268.5 H107.6 V263.7 H108.9 V258.8 H110.2 V252.6 H111.5 V248.5 H112.8 V254.9 H114.1 V259.9 H115.4 V264.8 H116.7 V268.5 H118.0 V272.7 H119.3 V277.7 H120.6 V281.2 H121.9 V287.8 H123.2 V302.9 H124.5 V311.9 H125.8 V317.7 H127.1 V324.2 H128.4 V330.5 H129.7 V338.2 H131.0 V343.9 H132.3 V348.1 H133.6 V352.3 H134.9 V355.2 H136.2 V357.0 H137.5 V359.2 H138.8 V360.8 H140.1 V362.5 H141.4 V363.7 H142.7 V365.3 H144.0 V366.0 H145.3 V365.8 H146.6 V366.5 H147.9 V367.1 H149.2 V366.5 H150.5 V366.6 H151.8 V367.4 H153.1 V367.4 H154.4 V367.3 H155.7 V366.8 H157.0 V367.1 H158.3 V367.6 H159.6 V367.6 H160.9 V367.6 H162.2 V366.9 H163.5 V367.7 H164.8 V367.2 H166.1 V367.3 H167.4 V366.4 H168.7 V367.0 H170.0 V366.3 H171.3 V366.2 H172.6 V365.4 H173.9 V365.7 H175.2 V365.6 H176.5 V365.4 H177.8 V365.3 H179.1 V366.1 H180.4 V366.0 H181.7 V366.3 H183.0 V366.4 H184.3 V367.2 H185.6 V366.9 H186.9 V367.2 H188.2 V367.3 H189.5 V368.2 H190.8 V368.3 H192.0 V368.5" fill="none" stroke="#aaaaaa" stroke-width="2.8"/>
</g>
<text class="bb" transform="translate(71.6,231.4) scale(0.9,1)" font-family="Liberation Sans" font-weight="bold" font-size="30.5">C</text>
<text class="sr" transform="translate(180.3,259) scale(1.0,1)" font-family="Liberation Serif" font-size="21" textLength="49.50">PAC1</text>
<text class="sr" transform="translate(131,281) scale(1.0,1)" font-family="Liberation Serif" font-size="15" textLength="100.00">+ Ro43-5054</text>
<line x1="127.5" y1="282.7" x2="110.5" y2="291" stroke="#000" stroke-width="2.7"/>
<g transform="matrix(1,0.006,0,1,0,-2.012)">
<line x1="335.4" y1="244.89999999999998" x2="335.4" y2="379.1" stroke="#000" stroke-width="2.4"/>
<line x1="326.9" y1="370.6" x2="501.5" y2="370.6" stroke="#000" stroke-width="2.5"/>
<line x1="330.59999999999997" y1="367.82" x2="335.4" y2="367.82" stroke="#000" stroke-width="1.3"/>
<line x1="330.59999999999997" y1="365.05" x2="335.4" y2="365.05" stroke="#000" stroke-width="1.3"/>
<line x1="330.59999999999997" y1="362.27" x2="335.4" y2="362.27" stroke="#000" stroke-width="1.3"/>
<line x1="330.59999999999997" y1="359.50" x2="335.4" y2="359.50" stroke="#000" stroke-width="1.3"/>
<line x1="327.2" y1="356.72" x2="335.4" y2="356.72" stroke="#000" stroke-width="1.6"/>
<line x1="330.59999999999997" y1="353.95" x2="335.4" y2="353.95" stroke="#000" stroke-width="1.3"/>
<line x1="330.59999999999997" y1="351.17" x2="335.4" y2="351.17" stroke="#000" stroke-width="1.3"/>
<line x1="330.59999999999997" y1="348.40" x2="335.4" y2="348.40" stroke="#000" stroke-width="1.3"/>
<line x1="330.59999999999997" y1="345.62" x2="335.4" y2="345.62" stroke="#000" stroke-width="1.3"/>
<line x1="327.2" y1="342.84" x2="335.4" y2="342.84" stroke="#000" stroke-width="1.6"/>
<line x1="330.59999999999997" y1="340.07" x2="335.4" y2="340.07" stroke="#000" stroke-width="1.3"/>
<line x1="330.59999999999997" y1="337.29" x2="335.4" y2="337.29" stroke="#000" stroke-width="1.3"/>
<line x1="330.59999999999997" y1="334.52" x2="335.4" y2="334.52" stroke="#000" stroke-width="1.3"/>
<line x1="330.59999999999997" y1="331.74" x2="335.4" y2="331.74" stroke="#000" stroke-width="1.3"/>
<line x1="327.2" y1="328.97" x2="335.4" y2="328.97" stroke="#000" stroke-width="1.6"/>
<line x1="330.59999999999997" y1="326.19" x2="335.4" y2="326.19" stroke="#000" stroke-width="1.3"/>
<line x1="330.59999999999997" y1="323.42" x2="335.4" y2="323.42" stroke="#000" stroke-width="1.3"/>
<line x1="330.59999999999997" y1="320.64" x2="335.4" y2="320.64" stroke="#000" stroke-width="1.3"/>
<line x1="330.59999999999997" y1="317.86" x2="335.4" y2="317.86" stroke="#000" stroke-width="1.3"/>
<line x1="327.2" y1="315.09" x2="335.4" y2="315.09" stroke="#000" stroke-width="1.6"/>
<line x1="330.59999999999997" y1="312.31" x2="335.4" y2="312.31" stroke="#000" stroke-width="1.3"/>
<line x1="330.59999999999997" y1="309.54" x2="335.4" y2="309.54" stroke="#000" stroke-width="1.3"/>
<line x1="330.59999999999997" y1="306.76" x2="335.4" y2="306.76" stroke="#000" stroke-width="1.3"/>
<line x1="330.59999999999997" y1="303.99" x2="335.4" y2="303.99" stroke="#000" stroke-width="1.3"/>
<line x1="327.2" y1="301.21" x2="335.4" y2="301.21" stroke="#000" stroke-width="1.6"/>
<line x1="330.59999999999997" y1="298.44" x2="335.4" y2="298.44" stroke="#000" stroke-width="1.3"/>
<line x1="330.59999999999997" y1="295.66" x2="335.4" y2="295.66" stroke="#000" stroke-width="1.3"/>
<line x1="330.59999999999997" y1="292.88" x2="335.4" y2="292.88" stroke="#000" stroke-width="1.3"/>
<line x1="330.59999999999997" y1="290.11" x2="335.4" y2="290.11" stroke="#000" stroke-width="1.3"/>
<line x1="327.2" y1="287.33" x2="335.4" y2="287.33" stroke="#000" stroke-width="1.6"/>
<line x1="330.59999999999997" y1="284.56" x2="335.4" y2="284.56" stroke="#000" stroke-width="1.3"/>
<line x1="330.59999999999997" y1="281.78" x2="335.4" y2="281.78" stroke="#000" stroke-width="1.3"/>
<line x1="330.59999999999997" y1="279.01" x2="335.4" y2="279.01" stroke="#000" stroke-width="1.3"/>
<line x1="330.59999999999997" y1="276.23" x2="335.4" y2="276.23" stroke="#000" stroke-width="1.3"/>
<line x1="327.2" y1="273.46" x2="335.4" y2="273.46" stroke="#000" stroke-width="1.6"/>
<line x1="330.59999999999997" y1="270.68" x2="335.4" y2="270.68" stroke="#000" stroke-width="1.3"/>
<line x1="330.59999999999997" y1="267.90" x2="335.4" y2="267.90" stroke="#000" stroke-width="1.3"/>
<line x1="330.59999999999997" y1="265.13" x2="335.4" y2="265.13" stroke="#000" stroke-width="1.3"/>
<line x1="330.59999999999997" y1="262.35" x2="335.4" y2="262.35" stroke="#000" stroke-width="1.3"/>
<line x1="327.2" y1="259.58" x2="335.4" y2="259.58" stroke="#000" stroke-width="1.6"/>
<line x1="330.59999999999997" y1="256.80" x2="335.4" y2="256.80" stroke="#000" stroke-width="1.3"/>
<line x1="330.59999999999997" y1="254.03" x2="335.4" y2="254.03" stroke="#000" stroke-width="1.3"/>
<line x1="330.59999999999997" y1="251.25" x2="335.4" y2="251.25" stroke="#000" stroke-width="1.3"/>
<line x1="330.59999999999997" y1="248.48" x2="335.4" y2="248.48" stroke="#000" stroke-width="1.3"/>
<line x1="327.2" y1="245.70" x2="335.4" y2="245.70" stroke="#000" stroke-width="1.6"/>
<line x1="351.7" y1="370.6" x2="351.7" y2="375.40000000000003" stroke="#000" stroke-width="1.5"/>
<line x1="361.3" y1="370.6" x2="361.3" y2="375.40000000000003" stroke="#000" stroke-width="1.5"/>
<line x1="368.1" y1="370.6" x2="368.1" y2="375.40000000000003" stroke="#000" stroke-width="1.5"/>
<line x1="373.4" y1="370.6" x2="373.4" y2="375.40000000000003" stroke="#000" stroke-width="1.5"/>
<line x1="377.7" y1="370.6" x2="377.7" y2="375.40000000000003" stroke="#000" stroke-width="1.5"/>
<line x1="381.3" y1="370.6" x2="381.3" y2="375.40000000000003" stroke="#000" stroke-width="1.5"/>
<line x1="384.4" y1="370.6" x2="384.4" y2="375.40000000000003" stroke="#000" stroke-width="1.5"/>
<line x1="387.2" y1="370.6" x2="387.2" y2="375.40000000000003" stroke="#000" stroke-width="1.5"/>
<text class="sb" transform="translate(326.3,393.8) scale(0.80,1)" font-family="Liberation Sans" font-size="15">10</text>
<text class="sb" transform="translate(340.3,386.3) scale(0.80,1)" font-family="Liberation Sans" font-size="14.5">0</text>
<line x1="389.7" y1="370.6" x2="389.7" y2="379.1" stroke="#000" stroke-width="2"/>
<line x1="406.0" y1="370.6" x2="406.0" y2="375.40000000000003" stroke="#000" stroke-width="1.5"/>
<line x1="415.6" y1="370.6" x2="415.6" y2="375.40000000000003" stroke="#000" stroke-width="1.5"/>
<line x1="422.4" y1="370.6" x2="422.4" y2="375.40000000000003" stroke="#000" stroke-width="1.5"/>
<line x1="427.7" y1="370.6" x2="427.7" y2="375.40000000000003" stroke="#000" stroke-width="1.5"/>
<line x1="432.0" y1="370.6" x2="432.0" y2="375.40000000000003" stroke="#000" stroke-width="1.5"/>
<line x1="435.6" y1="370.6" x2="435.6" y2="375.40000000000003" stroke="#000" stroke-width="1.5"/>
<line x1="438.7" y1="370.6" x2="438.7" y2="375.40000000000003" stroke="#000" stroke-width="1.5"/>
<line x1="441.5" y1="370.6" x2="441.5" y2="375.40000000000003" stroke="#000" stroke-width="1.5"/>
<text class="sb" transform="translate(380.6,393.8) scale(0.80,1)" font-family="Liberation Sans" font-size="15">10</text>
<text class="sb" transform="translate(394.6,386.3) scale(0.80,1)" font-family="Liberation Sans" font-size="14.5">1</text>
<line x1="444.0" y1="370.6" x2="444.0" y2="379.1" stroke="#000" stroke-width="2"/>
<line x1="460.3" y1="370.6" x2="460.3" y2="375.40000000000003" stroke="#000" stroke-width="1.5"/>
<line x1="469.9" y1="370.6" x2="469.9" y2="375.40000000000003" stroke="#000" stroke-width="1.5"/>
<line x1="476.7" y1="370.6" x2="476.7" y2="375.40000000000003" stroke="#000" stroke-width="1.5"/>
<line x1="482.0" y1="370.6" x2="482.0" y2="375.40000000000003" stroke="#000" stroke-width="1.5"/>
<line x1="486.3" y1="370.6" x2="486.3" y2="375.40000000000003" stroke="#000" stroke-width="1.5"/>
<line x1="489.9" y1="370.6" x2="489.9" y2="375.40000000000003" stroke="#000" stroke-width="1.5"/>
<line x1="493.0" y1="370.6" x2="493.0" y2="375.40000000000003" stroke="#000" stroke-width="1.5"/>
<line x1="495.8" y1="370.6" x2="495.8" y2="375.40000000000003" stroke="#000" stroke-width="1.5"/>
<text class="sb" transform="translate(434.9,393.8) scale(0.80,1)" font-family="Liberation Sans" font-size="15">10</text>
<text class="sb" transform="translate(448.9,386.3) scale(0.80,1)" font-family="Liberation Sans" font-size="14.5">2</text>
<line x1="498.3" y1="370.6" x2="498.3" y2="379.1" stroke="#000" stroke-width="2"/>
<text class="sb" transform="translate(489.2,393.8) scale(0.80,1)" font-family="Liberation Sans" font-size="15">10</text>
<text class="sb" transform="translate(503.2,386.3) scale(0.80,1)" font-family="Liberation Sans" font-size="14.5">3</text>
<text class="sb" transform="translate(322.5,255.9) rotate(-90)" font-family="Liberation Sans" font-size="16" textLength="16.6" lengthAdjust="spacingAndGlyphs">90</text>
<text class="sb" transform="translate(321.6,372.1) rotate(-90) scale(0.8,1)" font-family="Liberation Sans" font-size="15.2">0</text>
<path d="M341.0 369.8 H342.5 V368.9 H344.0 V369.0 H345.5 V368.3 H347.0 V367.5 H348.5 V364.7 H350.0 V363.0 H351.5 V360.6 H353.0 V358.6 H354.5 V356.6 H356.0 V353.3 H357.5 V351.2 H359.0 V349.6 H360.5 V346.5 H362.0 V344.2 H363.5 V342.0 H365.0 V341.2 H366.5 V339.3 H368.0 V337.1 H369.5 V333.3 H371.0 V332.1 H372.5 V328.5 H374.0 V324.9 H375.5 V322.3 H377.0 V314.8 H378.5 V306.4 H380.0 V304.9 H381.5 V302.4 H383.0 V300.3 H384.5 V296.9 H386.0 V290.7 H387.5 V287.8 H389.0 V287.3 H390.5 V288.6 H392.0 V289.2 H393.5 V292.1 H395.0 V292.5 H396.5 V297.4 H398.0 V303.5 H399.5 V311.3 H401.0 V316.5 H402.5 V324.3 H404.0 V329.8 H405.5 V336.2 H407.0 V341.2 H408.5 V343.8 H410.0 V347.7 H411.5 V351.5 H413.0 V356.0 H414.5 V360.1 H416.0 V362.8 H417.5 V365.6 H419.0 V366.1 H420.5 V366.4 H422.0 V367.3 H423.5 V367.3 H425.0 V367.2 H426.5 V367.2 H428.0 V367.5 H429.5 V367.1 H431.0 V367.5 H432.5 V367.1 H434.0 V367.1 H435.5 V366.8 H437.0 V367.2 H438.5 V367.1 H440.0 V366.8 H441.5 V366.5 H443.0 V366.7 H444.5 V366.6 H446.0 V366.9 H447.5 V366.9 H449.0 V366.8 H450.5 V366.1 H452.0 V365.0 H453.5 V364.8 H455.0 V364.9 H456.5 V364.4 H458.0 V364.6 H459.5 V364.6 H461.0 V364.9 H462.5 V364.3 H464.0 V364.3 H465.5 V364.8 H467.0 V364.6 H468.5 V364.6 H470.0 V364.8 H471.5 V364.7 H473.0 V364.7 H474.5 V364.5 H476.0 V365.4 H477.5 V366.4 H479.0 V366.7 H480.5 V367.1 H482.0 V367.2 H483.5 V367.3 H485.0 V367.7 H486.5 V368.7 H488.0 V369.7 V369.8 H341.0 Z" fill="#aaaaaa" stroke="#aaaaaa" stroke-width="0.8"/>
<path d="M351.8 369.3 H353.3 V366.9 H354.8 V364.3 H356.3 V361.8 H357.8 V359.3 H359.3 V357.3 H360.8 V354.6 H362.3 V352.9 H363.8 V349.5 H365.3 V347.8 H366.8 V345.6 H368.3 V343.0 H369.8 V342.4 H371.3 V340.2 H372.8 V339.5 H374.3 V332.9 H375.8 V329.3 H377.3 V327.9 H378.8 V325.0 H380.3 V322.6 H381.8 V315.1 H383.3 V311.1 H384.8 V308.4 H386.3 V307.1 H387.8 V306.7 H389.3 V306.7 H390.8 V306.9 H392.3 V308.1 H393.8 V307.7 H395.3 V311.8 H396.8 V316.7 H398.3 V322.5 H399.8 V326.3 H401.3 V329.2 H402.8 V335.3 H404.3 V339.3 H405.8 V343.4 H407.3 V347.4 H408.8 V351.9 H410.3 V356.5 H411.8 V361.3 H413.3 V364.4 H414.8 V366.9 H416.3 V368.6 H417.4 V369.4 V369.8 H351.8 Z" fill="url(#ht)" stroke="#3a3a3a" stroke-width="0.6"/>
<path d="M375.6 320.5V312H376.8V303H379.6V312H378.6V320.5Z M384.6 298.5L385.6 291L388.2 285.8L391.2 288.5L392 298.5H389.6L389.2 292L388 290.3L387.2 298.5Z M396.4 310.5V296L399 294.5L399.3 310.5Z M372.2 330.5h2.2v4.5h-2.2z M365.6 338.5h2v4h-2z M358.6 349h2v3h-2z M353.2 356.5h2v3h-2z M341.5 367.2h3v1.8h-3z" fill="#000"/>
</g>
<text class="bb" transform="translate(340.0,230.7) scale(0.9,1)" font-family="Liberation Sans" font-weight="bold" font-size="30.8">D</text>
<text class="sr" transform="translate(452,260.8) scale(1.0,1)" font-family="Liberation Serif" font-size="21" textLength="51.00">PAC1</text>
<text class="sr" transform="translate(417.5,333.6) scale(1.0,1)" font-family="Liberation Serif" font-size="15" textLength="101.00">+ Ro43-5054</text>
<line x1="420.0" y1="336.0" x2="407.8" y2="344.6" stroke="#000" stroke-width="2.7"/>
<text class="sr" transform="translate(133.2,419.3) scale(1.06,1)" textLength="261.5" font-family="Liberation Serif" font-size="23">Fluorescence Intensity</text>
<text class="sr" transform="translate(20.6,258.3) rotate(-90) scale(1.06,1)" textLength="148.1" font-family="Liberation Serif" font-size="23">Cell Number</text>
</svg>
</body></html>
